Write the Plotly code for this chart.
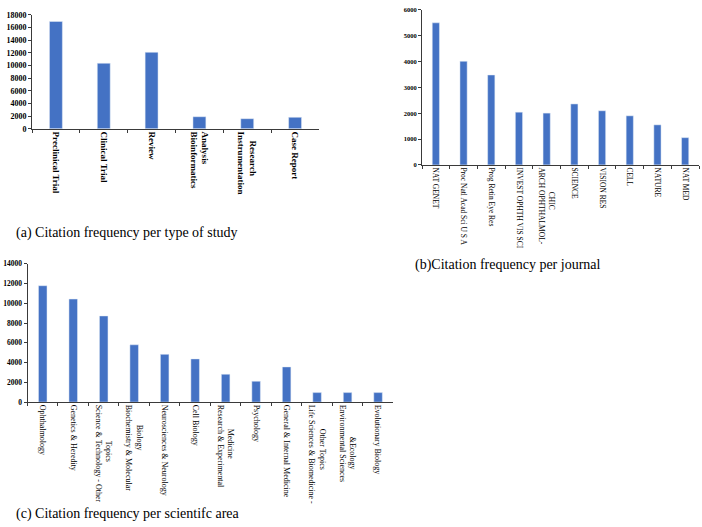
import plotly.graph_objects as go

# (a) type of study
study_types = ["Preclinical Trial", "Clinical Trial", "Review",
               "Analysis<br>Bioinformatics", "Research<br>Instrumentation", "Case Report"]
study_counts = [16950, 10350, 12080, 1910, 1600, 1820]

# (b) journals
journals = ["NAT GENET", "Proc Natl Acad Sci U S A", "Prog Retin Eye Res",
            "INVEST OPHTH VIS SCI", "CHIC<br>ARCH OPHTHALMOL-", "SCIENCE",
            "VISION RES", "CELL", "NATURE", "NAT MED"]
journal_counts = [5500, 4010, 3480, 2040, 2005, 2360, 2095, 1900, 1550, 1055]

# (c) scientific areas
areas = ["Ophthalmology", "Genetics & Heredity",
         "Topics<br>Science & Technology - Other",
         "Biology<br>Biochemistry & Molecular",
         "Neurosciences & Neurology", "Cell Biology",
         "Medicine<br>Research & Experimental", "Psychology",
         "General & Internal Medicine",
         "Other Topics<br>Life Sciences & Biomedicine -",
         "&Ecology<br>Environmental Sciences", "Evolutionary Biology"]
area_counts = [11780, 10430, 8720, 5800, 4830, 4370, 2820, 2110, 3560, 960, 960, 960]

captions = ["(a) Citation frequency per type of study",
            "(b)Citation frequency per journal",
            "(c) Citation frequency per scientifc area"]

BAR = "#4472C4"
SERIF = "Liberation Serif"
W, H = 702, 527

# styling: indent of the first (right-hand) line of two-line rotated labels
FIRST_LINE_PAD = {"Research": 4, "CHIC": 13, "Topics": 18, "Biology": 10,
                  "Medicine": 12, "Other Topics": 12, "&Ecology": 16}


def styled(label):
    if "<br>" not in label:
        return label
    first, rest = label.split("<br>", 1)
    return "&nbsp;" * FIRST_LINE_PAD.get(first, 0) + first + "<br>" + rest


fig = go.Figure()
fig.add_trace(go.Bar(x=study_types, y=study_counts, marker_color=BAR, width=0.27,
                     xaxis="x", yaxis="y", showlegend=False))
fig.add_trace(go.Bar(x=journals, y=journal_counts, marker_color=BAR, width=0.26,
                     xaxis="x2", yaxis="y2", showlegend=False))
fig.add_trace(go.Bar(x=areas, y=area_counts, marker_color=BAR, width=0.28,
                     xaxis="x3", yaxis="y3", showlegend=False))


def px_x(v):
    return v / W


def px_y(v):
    return 1 - v / H


axline = dict(showline=True, linecolor="#3a3a3a", linewidth=1, ticks="outside",
              tickcolor="#3a3a3a", ticklen=3, showgrid=False, zeroline=False)

fig.update_layout(
    width=W, height=H, autosize=False,
    margin=dict(l=0, r=0, t=0, b=0),
    paper_bgcolor="white", plot_bgcolor="white",
    xaxis=dict(domain=[px_x(32), px_x(319)], anchor="y", type="category",
               range=[-0.5, len(study_types) - 0.5], tickson="boundaries", tickangle=90,
               tickvals=study_types, ticktext=[styled(s) for s in study_types],
               tickfont=dict(family=SERIF, size=9, color="black", weight="bold"), **axline),
    yaxis=dict(domain=[px_y(127), px_y(11)], anchor="x", range=[0, 18000], dtick=2000,
               tickformat="d",
               tickfont=dict(family=SERIF, size=8, color="black", weight="bold"), **axline),
    xaxis2=dict(domain=[px_x(422), px_x(699)], anchor="y2", type="category",
                range=[-0.5, len(journals) - 0.5], tickson="boundaries", tickangle=90,
                tickvals=journals, ticktext=[styled(s) for s in journals],
                tickfont=dict(family=SERIF, size=7.5, color="black"), **axline),
    yaxis2=dict(domain=[px_y(163.7), px_y(6)], anchor="x2", range=[0, 6000], dtick=1000,
                tickformat="d",
                tickfont=dict(family=SERIF, size=6.5, color="black", weight="bold"), **axline),
    xaxis3=dict(domain=[px_x(27.5), px_x(393.3)], anchor="y3", type="category",
                range=[-0.5, len(areas) - 0.5], tickson="boundaries", tickangle=90,
                tickvals=areas, ticktext=[styled(s) for s in areas],
                tickfont=dict(family=SERIF, size=8, color="black"), **axline),
    yaxis3=dict(domain=[px_y(405), px_y(264.3)], anchor="x3", range=[0, 14000], dtick=2000,
                tickformat="d",
                tickfont=dict(family=SERIF, size=7.5, color="black", weight="bold"), **axline),
)

cap_pos = [(14, 233), (413, 266), (14, 519)]
for text, (cx, cy) in zip(captions, cap_pos):
    fig.add_annotation(text=text, xref="paper", yref="paper", x=px_x(cx), y=px_y(cy),
                       xanchor="left", yanchor="middle", showarrow=False,
                       font=dict(family=SERIF, size=14, color="black"))

fig.write_html("out.html")
